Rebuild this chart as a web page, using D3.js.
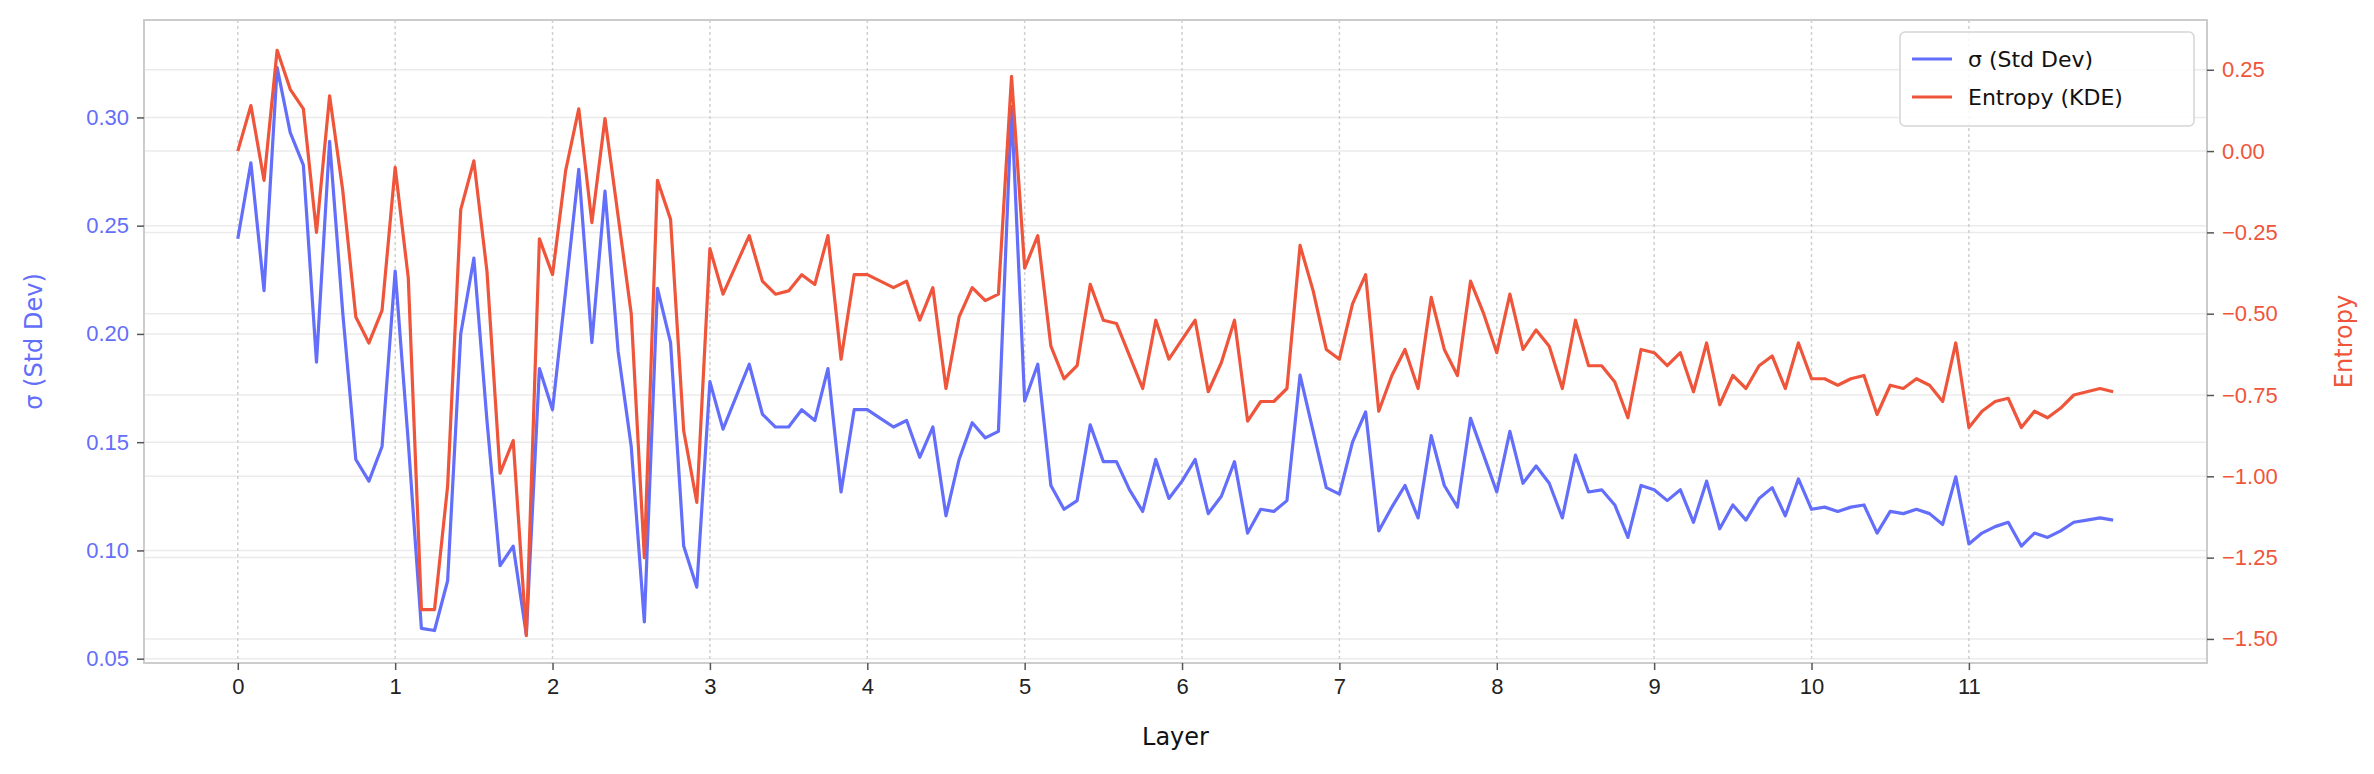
<!DOCTYPE html>
<html><head><meta charset="utf-8">
<script src="https://cdn.jsdelivr.net/npm/d3@7"></script>
<style>body{margin:0;background:#fff}svg{font-family:"DejaVu Sans",sans-serif}</style>
</head><body><svg id="c" width="2374" height="774"></svg>
<script>
const sigma=[0.244,0.279,0.220,0.323,0.293,0.278,0.187,0.289,0.210,0.142,0.132,0.148,
0.229,0.150,0.064,0.063,0.086,0.200,0.235,0.160,0.093,0.102,0.061,0.184,
0.165,0.220,0.276,0.196,0.266,0.192,0.148,0.067,0.221,0.196,0.102,0.083,
0.178,0.156,0.171,0.186,0.163,0.157,0.157,0.165,0.160,0.184,0.127,0.165,
0.165,0.161,0.157,0.160,0.143,0.157,0.116,0.142,0.159,0.152,0.155,0.305,
0.169,0.186,0.130,0.119,0.123,0.158,0.141,0.141,0.128,0.118,0.142,0.124,
0.132,0.142,0.117,0.125,0.141,0.108,0.119,0.118,0.123,0.181,0.155,0.129,
0.126,0.150,0.164,0.109,0.120,0.130,0.115,0.153,0.130,0.120,0.161,0.144,
0.127,0.155,0.131,0.139,0.131,0.115,0.144,0.127,0.128,0.121,0.106,0.130,
0.128,0.123,0.128,0.113,0.132,0.110,0.121,0.114,0.124,0.129,0.116,0.133,
0.119,0.120,0.118,0.120,0.121,0.108,0.118,0.117,0.119,0.117,0.112,0.134,
0.103,0.108,0.111,0.113,0.102,0.108,0.106,0.109,0.113,0.114,0.115,0.114];
const entropy=[0.00,0.14,-0.09,0.31,0.19,0.13,-0.25,0.17,-0.12,-0.51,-0.59,-0.49,
-0.05,-0.39,-1.41,-1.41,-1.03,-0.18,-0.03,-0.37,-0.99,-0.89,-1.49,-0.27,
-0.38,-0.06,0.13,-0.22,0.10,-0.20,-0.50,-1.25,-0.09,-0.21,-0.86,-1.08,
-0.30,-0.44,-0.35,-0.26,-0.40,-0.44,-0.43,-0.38,-0.41,-0.26,-0.64,-0.38,
-0.38,-0.40,-0.42,-0.40,-0.52,-0.42,-0.73,-0.51,-0.42,-0.46,-0.44,0.23,
-0.36,-0.26,-0.60,-0.70,-0.66,-0.41,-0.52,-0.53,-0.63,-0.73,-0.52,-0.64,
-0.58,-0.52,-0.74,-0.65,-0.52,-0.83,-0.77,-0.77,-0.73,-0.29,-0.43,-0.61,
-0.64,-0.47,-0.38,-0.80,-0.69,-0.61,-0.73,-0.45,-0.61,-0.69,-0.40,-0.50,
-0.62,-0.44,-0.61,-0.55,-0.60,-0.73,-0.52,-0.66,-0.66,-0.71,-0.82,-0.61,
-0.62,-0.66,-0.62,-0.74,-0.59,-0.78,-0.69,-0.73,-0.66,-0.63,-0.73,-0.59,
-0.70,-0.70,-0.72,-0.70,-0.69,-0.81,-0.72,-0.73,-0.70,-0.72,-0.77,-0.59,
-0.85,-0.80,-0.77,-0.76,-0.85,-0.80,-0.82,-0.79,-0.75,-0.74,-0.73,-0.74];
const xTicks=[0,1,2,3,4,5,6,7,8,9,10,11];
const leftTicks=[0.05,0.10,0.15,0.20,0.25,0.30];
const rightTicks=[0.25,0,-0.25,-0.5,-0.75,-1.0,-1.25,-1.5];
const blue="#636EFA", red="#EF553B";
const L=144,R=2207,T=20,B=663;
const xs=i=>i/12;
const x=d3.scaleLinear().domain([-0.596,12.513]).range([L,R]);
const yL=d3.scaleLinear().domain([0.048,0.345]).range([B,T]);
const yR=d3.scaleLinear().domain([-1.574,0.403]).range([B,T]);
const svg=d3.select("#c");
const g=svg.append("g");
// grids
g.selectAll(".hl").data(leftTicks).join("line").attr("x1",L).attr("x2",R).attr("y1",d=>yL(d)).attr("y2",d=>yL(d)).attr("stroke","#ebebeb").attr("stroke-width",1.5);
g.selectAll(".hr").data(rightTicks).join("line").attr("x1",L).attr("x2",R).attr("y1",d=>yR(d)).attr("y2",d=>yR(d)).attr("stroke","#ebebeb").attr("stroke-width",1.5);
g.selectAll(".vl").data(xTicks).join("line").attr("x1",d=>x(d)).attr("x2",d=>x(d)).attr("y1",T).attr("y2",B).attr("stroke","#d0d0d0").attr("stroke-width",1.5).attr("stroke-dasharray","3,3");
// lines
const lineL=d3.line().x((d,i)=>x(xs(i))).y(d=>yL(d));
const lineR=d3.line().x((d,i)=>x(xs(i))).y(d=>yR(d));
g.append("path").attr("d",lineL(sigma)).attr("fill","none").attr("stroke",blue).attr("stroke-width",3.2).attr("stroke-linejoin","round");
g.append("path").attr("d",lineR(entropy)).attr("fill","none").attr("stroke",red).attr("stroke-width",3.2).attr("stroke-linejoin","round");
// frame
g.append("rect").attr("x",L).attr("y",T).attr("width",R-L).attr("height",B-T).attr("fill","none").attr("stroke","#cccccc").attr("stroke-width",2);
// axes
const fs=22;
const ax=svg.append("g").attr("transform",`translate(0,${B})`).call(d3.axisBottom(x).tickValues(xTicks).tickSize(7).tickPadding(8));
const al=svg.append("g").attr("transform",`translate(${L},0)`).call(d3.axisLeft(yL).tickValues(leftTicks).tickFormat(d3.format(".2f")).tickSize(7).tickPadding(8));
const ar=svg.append("g").attr("transform",`translate(${R},0)`).call(d3.axisRight(yR).tickValues(rightTicks).tickFormat(d3.format(".2f")).tickSize(7).tickPadding(8));
for(const [a,c] of [[ax,"#222"],[al,blue],[ar,red]]){
  a.select(".domain").remove();
  a.selectAll("line").attr("stroke","#555").attr("stroke-width",1.5);
  a.selectAll("text").attr("fill",c).style("font-size",fs+"px");
}
ar.selectAll("text").text(d=>d3.format(".2f")(d).replace("-","−"));
svg.append("text").attr("x",(L+R)/2).attr("y",745).attr("text-anchor","middle").style("font-size","24px").attr("fill","#111").text("Layer");
svg.append("text").attr("transform",`translate(42,${(T+B)/2}) rotate(-90)`).attr("text-anchor","middle").style("font-size","24px").attr("fill",blue).text("σ (Std Dev)");
svg.append("text").attr("transform",`translate(2352,${(T+B)/2}) rotate(-90)`).attr("text-anchor","middle").style("font-size","24px").attr("fill",red).text("Entropy");
// legend
const lg=svg.append("g").attr("transform","translate(1900,32)");
lg.append("rect").attr("width",294).attr("height",94).attr("rx",5).attr("fill","#fff").attr("fill-opacity",0.85).attr("stroke","#d5d5d5").attr("stroke-width",1.5);
[["σ (Std Dev)",blue],["Entropy (KDE)",red]].forEach(([t,c],i)=>{
  const yy=27+i*38;
  lg.append("line").attr("x1",12).attr("x2",52).attr("y1",yy).attr("y2",yy).attr("stroke",c).attr("stroke-width",3.2);
  lg.append("text").attr("x",68).attr("y",yy+8).style("font-size","22px").attr("fill","#111").text(t);
});
</script></body></html>
